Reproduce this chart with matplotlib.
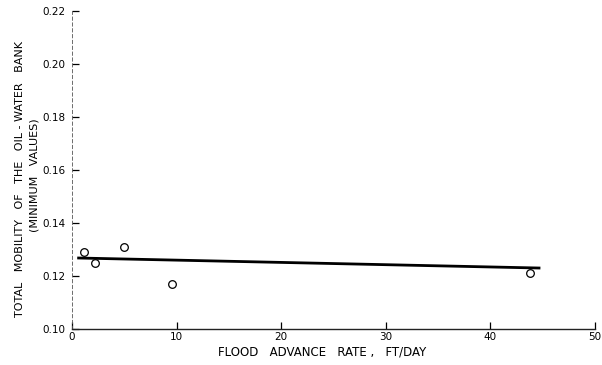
import matplotlib.pyplot as plt

# flood advance rate (ft/day) vs minimum total mobility of the oil-water bank
rate = [1.15, 2.2, 5.0, 9.6, 43.8]
mobility = [0.129, 0.125, 0.131, 0.117, 0.121]

# fitted trend line end points
fit_rate = [0.5, 44.8]
fit_mobility = [0.1268, 0.1230]

x_ticks = [0, 10, 20, 30, 40, 50]
y_ticks = [0.10, 0.12, 0.14, 0.16, 0.18, 0.20, 0.22]
y_tick_labels = ['0.10', '0.12', '0.14', '0.16', '0.18', '0.20', '0.22']

plt.rcParams['font.family'] = ['DejaVu Sans']

fig = plt.figure(figsize=(6.02, 3.65), dpi=100)
ax = fig.add_axes([0.1196, 0.0986, 0.8684, 0.8714])

ax.plot(fit_rate, fit_mobility, color='black', linewidth=2.0, solid_capstyle='butt')
ax.plot(rate, mobility, linestyle='none', marker='o', markersize=5.5,
        markerfacecolor='white', markeredgecolor='black', markeredgewidth=0.9)

ax.set_xlim(0, 50)
ax.set_ylim(0.10, 0.22)
ax.set_xticks(x_ticks)
ax.set_yticks(y_ticks)
ax.set_yticklabels(y_tick_labels)

for side in ['top', 'right']:
    ax.spines[side].set_visible(False)
ax.spines['bottom'].set_linewidth(1.0)
ax.spines['bottom'].set_color('#222222')
ax.spines['left'].set_linewidth(0.6)
ax.spines['left'].set_linestyle((0, (4, 3)))
ax.spines['left'].set_color('#555555')

ax.tick_params(axis='both', direction='in', length=5, width=0.9,
               labelsize=7.5, colors='black')
ax.tick_params(axis='x', pad=2)
ax.tick_params(axis='y', pad=5)

fig.text(0.033, 0.51, 'TOTAL   MOBILITY   OF   THE   OIL - WATER   BANK',
         rotation=90, ha='center', va='center', fontsize=8)
fig.text(0.058, 0.52, '(MINIMUM   VALUES)',
         rotation=90, ha='center', va='center', fontsize=8)
fig.text(0.535, 0.035, 'FLOOD   ADVANCE   RATE ,   FT/DAY',
         ha='center', va='center', fontsize=8.5)

fig.savefig('out.png', dpi=100)
